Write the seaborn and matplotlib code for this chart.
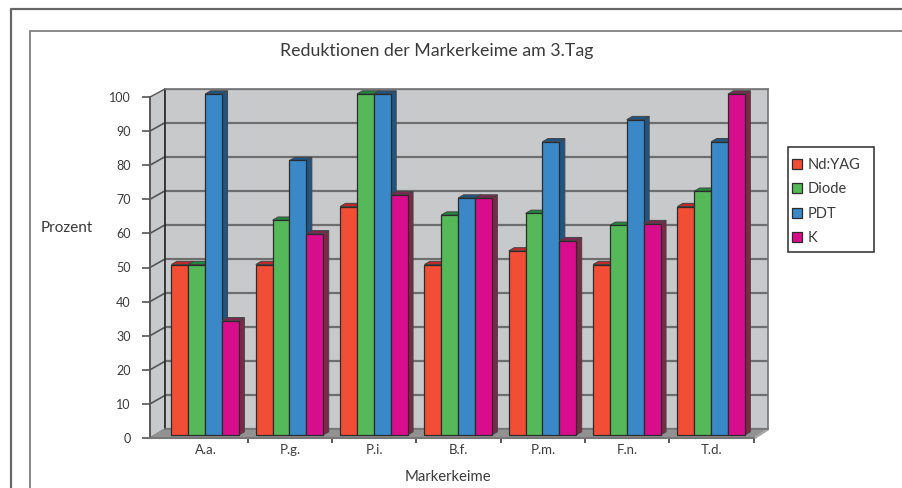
import matplotlib
matplotlib.use('Agg')
import matplotlib.pyplot as plt
from matplotlib.patches import Polygon, Rectangle
from matplotlib.transforms import IdentityTransform
import pandas as pd
import seaborn as sns

# values
keime = ['A.a.', 'P.g.', 'P.i.', 'B.f.', 'P.m.', 'F.n.', 'T.d.']
nd_yag = [50, 50, 67, 50, 54, 50, 67]
diode = [50, 63, 100, 64.5, 65, 61.5, 71.5]
pdt = [100, 80.5, 100, 69.5, 86, 92.5, 86]
k = [33.5, 59, 70.5, 69.5, 57, 62, 100]
y_ticks = [0, 10, 20, 30, 40, 50, 60, 70, 80, 90, 100]

laser = ['Nd:YAG', 'Diode', 'PDT', 'K']
farben = ['#f24e36', '#55b95a', '#3a88c8', '#d80d8c']
seiten = ['#8f2f2a', '#2f7a3a', '#1f5585', '#7c2945']
deckel = ['#c0282a', '#1f8a3c', '#1f5585', '#7c2950']

W, H = 902, 488
TEXT = '#3a3a3a'
LINE = '#2b2b2b'


def box(l, t, r, b):
    # axes rectangle from picture pixels (y counted from the top)
    return [l / W, 1 - b / H, (r - l) / W, (b - t) / H]


df = pd.DataFrame({'Keim': keime, 'Nd:YAG': nd_yag, 'Diode': diode, 'PDT': pdt, 'K': k})
df = df.melt(id_vars='Keim', value_vars=laser, var_name='Laser', value_name='Prozent')

sns.set_theme(style='white')
plt.rcParams['font.family'] = ['Lato', 'DejaVu Sans']

fig = plt.figure(figsize=(W / 100, H / 100), dpi=100, facecolor='white')

# page frames and the 3d box around the plot, in picture pixels
bg = fig.add_axes([0, 0, 1, 1], zorder=0)
bg.set_xlim(0, W)
bg.set_ylim(H, 0)
bg.axis('off')
bg.plot([10.5, 10.5, W], [H, 9, 9], color='#666666', lw=1.6)
bg.plot([29.5, 29.5, W], [H, 30.5, 30.5], color='#888888', lw=1.4)
bg.add_patch(Polygon([(150, 97), (165, 89), (165, 429), (150, 438)], fc='#c8c9cb', ec='#555555', lw=1))
bg.add_patch(Polygon([(150, 438), (165, 429), (768, 429), (753.8, 438)], fc='#929292', ec='#929292', lw=1))
bg.add_patch(Polygon([(753.8, 438), (768, 429), (768, 430), (753.8, 439)], fc='#c8c9cb', ec='#aaaaaa', lw=1))
bg.add_patch(Rectangle((787.5, 147), 86.5, 105, fc='white', ec=LINE, lw=1.1))

# back wall with the grid
ax_back = fig.add_axes(box(165, 89, 768, 429), zorder=1, facecolor='#c8c9cb')
ax_back.set_ylim(0, 100)
ax_back.set_xticks([])
ax_back.set_yticks(y_ticks)
ax_back.tick_params(left=False, labelleft=False)
ax_back.grid(axis='y', color='#6e6e6e', lw=1.6)
ax_back.set_axisbelow(True)
for side in ax_back.spines.values():
    side.set_color('#777777')
ax_back.spines['left'].set_color(LINE)

# slanted grid lines on the side wall
for v in y_ticks[1:-1]:
    y_front = 438 - v * 3.41
    bg.plot([150, 165], [y_front, y_front - 8.5], color='#555555', lw=1.2)

# front plane with the axes
ax_front = fig.add_axes(box(150, 97, 753.8, 438), zorder=2, facecolor='none')
ax_front.set_ylim(0, 100)
ax_front.set_xlim(-0.5 - (163.5 - 150) / 84.33, 6.5)
ax_front.set_yticks(y_ticks)
ax_front.set_xticks(range(len(keime)), keime)
ax_front.set_xticks([i + 0.5 for i in range(len(keime))], minor=True)
ax_front.tick_params(axis='y', left=True, length=6, width=1.2, color='#555555', labelsize=9,
                     labelcolor=TEXT, pad=8)
ax_front.tick_params(axis='x', which='major', bottom=False, length=0, labelsize=9.5, labelcolor=TEXT, pad=4)
ax_front.tick_params(axis='x', which='minor', bottom=True, length=3.5, width=1.1, color=LINE)
for name in ['top', 'right']:
    ax_front.spines[name].set_visible(False)
ax_front.spines['left'].set_color('#555555')
ax_front.spines['bottom'].set_color('#777777')
ax_front.spines['bottom'].set_linewidth(1.5)

# the bars
ax = fig.add_axes(box(163, 94, 753.3, 435), zorder=3, facecolor='none')
sns.barplot(data=df, x='Keim', y='Prozent', hue='Laser', order=keime, hue_order=laser,
            palette=farben, saturation=1, width=0.8, gap=0, edgecolor=LINE, linewidth=0.9,
            ax=ax)
ax.set_xlim(-0.5, 6.5)
ax.set_ylim(0, 100)
ax.axis('off')

# side and top faces of the bars, taken from the bars seaborn drew
fig.canvas.draw()
tiefe_x, tiefe_y = 5.5, 3.2
for h, container in enumerate(ax.containers):
    for bar in container:
        x0 = bar.get_x()
        x1 = x0 + bar.get_width()
        (px0, py0), (px1, py1) = ax.transData.transform([(x0, 0), (x1, bar.get_height())])
        z = 2 + x0 + 0.01
        bar.set_zorder(z + 0.002)
        bar.set_clip_on(False)
        ax.add_patch(Polygon([(px1, py0), (px1 + tiefe_x, py0 + tiefe_y), (px1 + tiefe_x, py1 + tiefe_y), (px1, py1)],
                             fc=seiten[h], ec='#444444', lw=0.7, zorder=z, clip_on=False,
                             transform=IdentityTransform()))
        ax.add_patch(Polygon([(px0, py1), (px0 + tiefe_x, py1 + tiefe_y), (px1 + tiefe_x, py1 + tiefe_y), (px1, py1)],
                             fc=deckel[h], ec='#444444', lw=0.7, zorder=z + 0.001, clip_on=False,
                             transform=IdentityTransform()))

# legend, its frame is drawn on bg
griffe, namen = ax.get_legend_handles_labels()
ax.get_legend().remove()
leg = fig.legend(griffe, namen, loc='upper left', bbox_to_anchor=(781 / W, 1 - 147 / H),
                 bbox_transform=fig.transFigure, frameon=False, fontsize=10.5,
                 labelcolor=TEXT, handlelength=0.68, handleheight=0.68, handletextpad=0.42,
                 labelspacing=0.72, borderpad=0.75, borderaxespad=0)

fig.text(437 / W, 1 - 51 / H, 'Reduktionen der Markerkeime am 3.Tag', ha='center', va='center',
         fontsize=12.8, color=TEXT)
fig.text(67 / W, 1 - 228 / H, 'Prozent', ha='center', va='center', fontsize=11, color=TEXT)
fig.text(447.5 / W, 1 - 477 / H, 'Markerkeime', ha='center', va='center', fontsize=10.7, color=TEXT)

fig.savefig('out.png', dpi=100)
